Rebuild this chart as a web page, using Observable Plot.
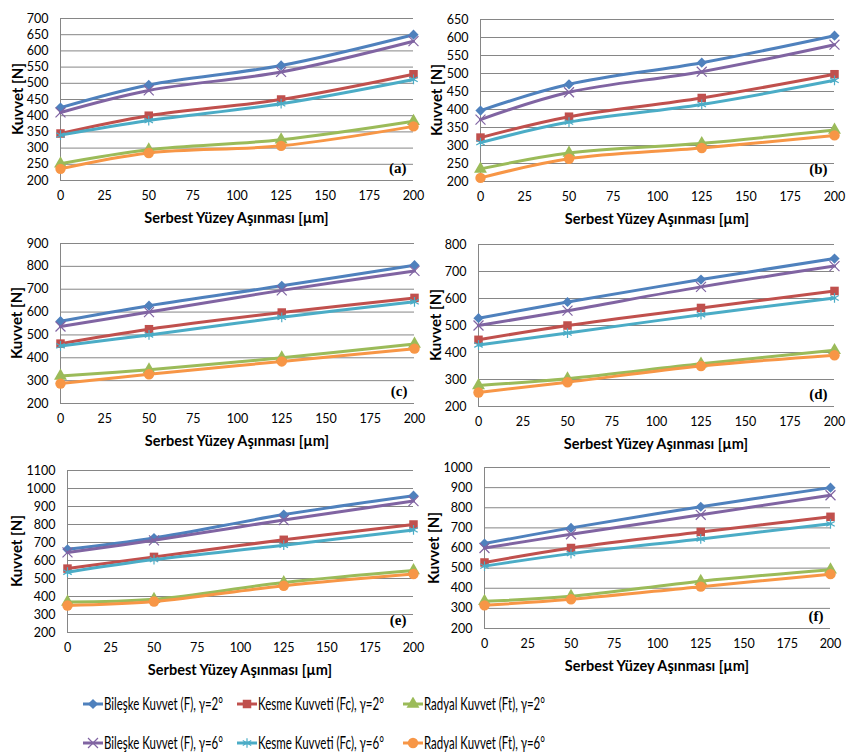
<!DOCTYPE html>
<html><head><meta charset="utf-8">
<script src="https://cdn.jsdelivr.net/npm/d3@7"></script>
<script src="https://cdn.jsdelivr.net/npm/@observablehq/plot@0.6"></script>
<style>
body{margin:0;background:#fff;font-family:Lato,sans-serif;}
#wrap{position:relative;width:854px;height:756px;overflow:hidden;background:#fff;}
.panel{position:absolute;}
.ytitle{position:absolute;font:bold 15px Lato,sans-serif;color:#000;transform:translate(-50%,-50%) rotate(-90deg);white-space:nowrap;}
.xtitle{position:absolute;font:bold 14.5px Lato,sans-serif;color:#000;transform:translate(-50%,-50%);white-space:nowrap;}
.leg{position:absolute;display:flex;align-items:center;font-family:Lato,sans-serif;font-size:17px;line-height:20px;color:#000;white-space:nowrap;transform:translateY(-50%);}
.leg span{display:inline-block;transform-origin:0 50%;}
</style>
</head><body>
<div id="wrap"></div>
<script>
// ---- data ----
const wear = [0, 50, 125, 200];
const xTicks = [0, 25, 50, 75, 100, 125, 150, 175, 200];
const panelLabels = ["(a)", "(b)", "(c)", "(d)", "(e)", "(f)"];
const yDomains = [[200, 700], [200, 650], [200, 900], [200, 800], [200, 1100], [200, 1000]];
const yTickSteps = [50, 50, 100, 100, 100, 100];
const seriesNames = [
  "Bileşke Kuvvet (F), γ=2°", "Kesme Kuvveti (Fc), γ=2°", "Radyal Kuvvet (Ft), γ=2°",
  "Bileşke Kuvvet (F), γ=6°", "Kesme Kuvveti (Fc), γ=6°", "Radyal Kuvvet (Ft), γ=6°"
];
const xTitle = "Serbest Yüzey Aşınması [µm]";
const yTitle = "Kuvvet [N]";
// one row per panel (a)–(f), values at wear = 0, 50, 125, 200
const bileske2 = [[425,495,555,650],[397,470,530,605],[560,628,715,805],[527,587,670,748],[662,725,855,960],[622,700,805,900]];
const kesme2   = [[345,400,450,528],[322,380,432,498],[462,525,598,662],[447,500,565,628],[555,620,715,800],[528,600,680,755]];
const radyal2  = [[252,295,326,383],[235,279,306,343],[320,348,400,460],[278,303,358,408],[370,385,478,545],[335,360,435,492]];
const bileske6 = [[410,478,535,630],[372,448,505,580],[537,600,695,780],[500,555,643,720],[645,712,825,930],[600,668,765,862]];
const kesme6   = [[340,385,437,512],[308,365,414,481],[452,500,577,645],[428,472,540,602],[535,605,685,770],[510,572,645,720]];
const radyal6  = [[236,285,307,367],[210,263,293,328],[287,328,384,440],[252,290,350,390],[350,372,460,525],[315,345,408,470]];
const seriesData = [bileske2, kesme2, radyal2, bileske6, kesme6, radyal6];

// ---- styles ----
const colors = ["#4F81BD", "#C0504D", "#9BBB59", "#8064A2", "#4BACC6", "#F79646"];
const symbols = ["diamond2", "square", "triangle", "times", "asterisk", "circle"];
const filled = [true, true, true, false, false, true];
const radii = [4.6, 4.8, 4.8, 4.6, 4.6, 5.2];

// ---- layout ----
const layout = [
  {left: 0,   top: 0,   w: 427, h: 225, mL: 60, mR: 14, mT: 18, mB: 45, yt: 17},
  {left: 427, top: 0,   w: 427, h: 225, mL: 53, mR: 20, mT: 19, mB: 44, yt: 9},
  {left: 0,   top: 225, w: 427, h: 225, mL: 60, mR: 13, mT: 18, mB: 47, yt: 16},
  {left: 427, top: 225, w: 427, h: 225, mL: 51, mR: 20, mT: 19, mB: 44, yt: 8},
  {left: 0,   top: 450, w: 427, h: 230, mL: 67, mR: 14, mT: 20, mB: 48, yt: 16},
  {left: 427, top: 450, w: 427, h: 230, mL: 57, mR: 24, mT: 17, mB: 52, yt: 6}
];

const wrap = document.getElementById("wrap");

layout.forEach((L, p) => {
  const yTicks = d3.range(yDomains[p][0], yDomains[p][1] + 1, yTickSteps[p]);
  const rows = [];
  seriesData.forEach((s, i) => wear.forEach((x, j) => rows.push({x, y: s[p][j], series: seriesNames[i], idx: i})));
  const marks = [
    Plot.ruleY(yTicks, {stroke: "#868686", strokeWidth: 1}),
    Plot.ruleX([0], {stroke: "#868686", strokeWidth: 1}),
    Plot.axisX({ticks: xTicks, tickSize: 0, tickPadding: 11, fontSize: 12.5, label: null, tickFormat: d => String(d)}),
    Plot.axisY({ticks: yTicks, tickSize: 0, tickPadding: 12, fontSize: 12.5, label: null, tickFormat: d => String(d)})
  ];
  seriesNames.forEach((name, i) => {
    const d = rows.filter(r => r.idx === i);
    marks.push(Plot.line(d, {x: "x", y: "y", stroke: colors[i], strokeWidth: 3, curve: "catmull-rom"}));
    marks.push(Plot.dot(d, {
      x: "x", y: "y", symbol: () => symbols[i], r: radii[i],
      fill: filled[i] ? colors[i] : "none",
      stroke: filled[i] ? "none" : colors[i],
      strokeWidth: filled[i] ? 0 : 1.2
    }));
  });
  marks.push(Plot.text([panelLabels[p]], {
    frameAnchor: "bottom-right", dx: -7, dy: -8, text: d => d,
    fontFamily: "'Liberation Serif', 'DejaVu Serif', serif", fontWeight: "bold", fontSize: 15, fill: "#000"
  }));
  const chart = Plot.plot({
    width: L.w, height: L.h,
    marginLeft: L.mL, marginRight: L.mR, marginTop: L.mT, marginBottom: L.mB,
    style: {fontFamily: "Lato, sans-serif", fontSize: "12.5px", color: "#000", background: "transparent", overflow: "visible"},
    x: {domain: [0, 200]},
    y: {domain: yDomains[p]},
    symbol: {type: "identity"},
    marks
  });
  chart.classList.add("panel");
  chart.style.left = L.left + "px";
  chart.style.top = L.top + "px";
  wrap.appendChild(chart);

  const yt = document.createElement("div");
  yt.className = "ytitle";
  yt.textContent = yTitle;
  yt.style.left = (L.left + L.yt) + "px";
  yt.style.top = (L.top + L.mT + (L.h - L.mT - L.mB) / 2) + "px";
  wrap.appendChild(yt);

  const xt = document.createElement("div");
  xt.className = "xtitle";
  xt.textContent = xTitle;
  xt.style.left = (L.left + L.mL + (L.w - L.mL - L.mR) / 2) + "px";
  xt.style.top = (L.top + L.h - L.mB + 37) + "px";
  wrap.appendChild(xt);
});

// ---- legend (below the charts) ----
const legPos = [
  {x: 83, y: 704, tw: 119}, {x: 237, y: 704, tw: 126}, {x: 403, y: 704, tw: 121},
  {x: 83, y: 743, tw: 119}, {x: 237, y: 743, tw: 126}, {x: 403, y: 743, tw: 121}
];
const symGen = {
  diamond2: d3.symbolDiamond2, square: d3.symbolSquare, triangle: d3.symbolTriangle,
  times: d3.symbolTimes, asterisk: d3.symbolAsterisk, circle: d3.symbolCircle
};
seriesNames.forEach((name, i) => {
  const div = document.createElement("div");
  div.className = "leg";
  div.style.left = legPos[i].x + "px";
  div.style.top = legPos[i].y + "px";
  const r = radii[i];
  const path = d3.symbol(symGen[symbols[i]], Math.PI * r * r)();
  div.innerHTML = `<svg width="21" height="14" viewBox="0 0 21 14"><line x1="0" x2="20" y1="7" y2="7" stroke="${colors[i]}" stroke-width="3"/>` +
    `<path transform="translate(10,7)" d="${path}" fill="${filled[i] ? colors[i] : "none"}" stroke="${filled[i] ? "none" : colors[i]}" stroke-width="1.2"/></svg>` +
    `<span>${name}</span>`;
  wrap.appendChild(div);
  const span = div.querySelector("span");
  const w = span.getBoundingClientRect().width;
  span.style.transform = `scaleX(${legPos[i].tw / w})`;
});
</script>
</body></html>
